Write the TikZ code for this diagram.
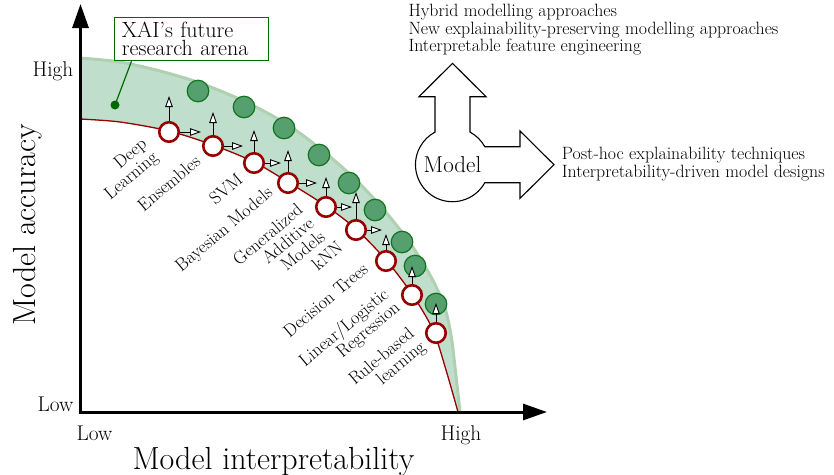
\documentclass[tikz,border=0pt]{standalone}
\usetikzlibrary{arrows.meta,calc}
\definecolor{darkred}{RGB}{150,0,0}
\definecolor{bandfill}{RGB}{192,222,204}
\definecolor{bandedge}{RGB}{176,208,178}
\definecolor{gfill}{RGB}{86,160,112}
\definecolor{gdraw}{RGB}{16,115,30}
\definecolor{xaigreen}{RGB}{0,105,0}
\newcommand\myfs[2]{\fontsize{#1}{#2}\selectfont}
\begin{document}
\begin{tikzpicture}[x=1pt,y=-1pt,
  redc/.style={circle,draw=darkred,line width=2.6pt,fill=white,minimum size=19.5pt,inner sep=0pt},
  greenc/.style={circle,draw=gdraw,line width=1.2pt,fill=gfill,minimum size=21.5pt,inner sep=0pt},
  smallarrow/.style={-{Triangle[length=11pt,width=7.5pt,fill=white]},line width=0.9pt},
  lbl/.style={rotate=40,align=right,inner sep=0pt,font=\myfs{18}{17.5}},
  smalltxt/.style={align=left,inner sep=0pt,font=\myfs{17.8}{17.5}},
  ticklbl/.style={inner sep=0pt,font=\myfs{21.3}{24}},
  axistitle/.style={inner sep=0pt,font=\myfs{32}{36}},
  axisline/.style={line width=3pt,{Triangle[length=24pt,width=16pt]}-{Triangle[length=24pt,width=16pt]}}
]
\useasboundingbox (0,0) rectangle (834,474);

% band
\fill[bandfill] plot[smooth] coordinates {(80,58) (120,62) (160,71) (200,83) (246,102) (288,125) (323,151) (355,179) (384,210) (410,243) (430,275) (444,305) (451,335) (455,367) (460,412)}
  -- plot[smooth] coordinates {(458,412) (446,370) (433,330) (412,294) (386,260) (356,229) (326,206) (288,182) (254,162) (213,145) (169,131) (120,122) (80,119)} -- cycle;
\draw[bandedge,line width=3pt] plot[smooth] coordinates {(80,58) (120,62) (160,71) (200,83) (246,102) (288,125) (323,151) (355,179) (384,210) (410,243) (430,275) (444,305) (451,335) (455,367) (460,412)};
\draw[darkred,line width=1.3pt] plot[smooth] coordinates {(80,119) (120,122) (169,131) (213,145) (254,162) (288,182) (326,206) (356,229) (386,260) (412,294) (433,330) (446,370) (458,412)};

% green circles
\node[greenc] (g1) at (198,91) {};
\node[greenc] (g2) at (244,107) {};
\node[greenc] (g3) at (284,128) {};
\node[greenc] (g4) at (319,155) {};
\node[greenc] (g5) at (349,183) {};
\node[greenc] (g6) at (375,210) {};
\node[greenc] (g7) at (402,242) {};
\node[greenc] (g8) at (415,266) {};
\node[greenc] (g9) at (436,304) {};

% red circles
\node[redc] (r1) at (169,132) {};
\node[redc] (r2) at (213,146) {};
\node[redc] (r3) at (254,163) {};
\node[redc] (r4) at (288,183) {};
\node[redc] (r5) at (326,207) {};
\node[redc] (r6) at (356,230) {};
\node[redc] (r7) at (386,261) {};
\node[redc] (r8) at (412,295) {};
\node[redc] (r9) at (436,333) {};

% arrow tips
\coordinate (u1) at (169,96);
\coordinate (u2) at (213,112);
\coordinate (u3) at (254,130);
\coordinate (u4) at (288,150);
\coordinate (u5) at (326,177);
\coordinate (u6) at (356,192);
\coordinate (u7) at (386,234);
\coordinate (u8) at (412,266);
\coordinate (u9) at (436,303);
\coordinate (t1) at (201,132);
\coordinate (t2) at (243,146);
\coordinate (t3) at (281,163);
\coordinate (t4) at (317,183);
\coordinate (t5) at (352,207);
\coordinate (t6) at (382,230);
\foreach \i in {1,...,9} {\draw[smallarrow] (r\i) -- (u\i);}
\foreach \i in {1,...,6} {\draw[smallarrow] (r\i) -- (t\i);}

% labels
\node[lbl] (l1) at (126.3,169.8) {Deep\\Learning};
\node[lbl] (l2) at (168.7,183.2) {Ensembles};
\node[lbl] (l3) at (225.8,188.8) {SVM};
\node[lbl] (l4) at (224.7,230.1) {Bayesian Models};
\node[lbl] (l5) at (278.7,247.8) {Generalized\\Additive\\Models};
\node[lbl] (l6) at (327.1,255.8) {kNN};
\node[lbl] (l7) at (325.4,300.1) {Decision Trees};
\node[lbl] (l8) at (349.9,334.7) {Linear/Logistic\\Regression};
\node[lbl] (l9) at (387.9,363.9) {Rule-based\\learning};

% axes
\coordinate (ytip) at (80.5,4);
\coordinate (origin) at (80.5,412);
\coordinate (xtip) at (547,412);
\draw[axisline] (ytip) -- (origin) -- (xtip);
\node[ticklbl,anchor=base east] (yhigh) at (73.5,76) {High};
\node[ticklbl,anchor=base east] (ylow) at (73.5,411.5) {Low};
\node[ticklbl,anchor=base west] (xlow) at (76.5,440.3) {Low};
\node[ticklbl,anchor=base] (xhigh) at (461,440.3) {High};
\node[axistitle,anchor=base] (xtitle) at (273.5,469) {Model interpretability};
\node[axistitle,anchor=base,rotate=90] (ytitle) at (35,225) {Model accuracy};

% XAI box
\node[draw=xaigreen,line width=1.2pt,fill=white,minimum width=154pt,minimum height=43.4pt,text width=138.6pt,align=left,inner xsep=7.7pt,inner ysep=0pt,font=\myfs{22}{17.5}] (xai) at (191.2,39) {XAI's future\\research arena};
\node[circle,fill=xaigreen,minimum size=9pt,inner sep=0pt] (dot) at (115,105) {};
\draw[xaigreen,line width=1.2pt] (dot.center) -- ($(xai.south west)!0.115!(xai.south east)$);

% Model shape
\draw[line width=1.1pt,fill=white] (435,132.1) -- (435,96.7) -- (419,96.7) -- (452.5,63.3) -- (486,96.7) -- (470,96.7) -- (470,132.1)
  arc[start angle=61.8,end angle=29.1,radius=37pt] -- (520,146.7) -- (520,131) -- (554,164.7) -- (520,198.4) -- (520,182.7) -- (484.8,182.7)
  arc[start angle=-29.1,end angle=-241.8,radius=37pt] -- cycle;
\node[inner sep=0pt,font=\myfs{23}{26}] (model) at (452.5,164.7) {Model};

% texts
\node[smalltxt,anchor=north west] (uptext) at (408.3,4.35) {Hybrid modelling approaches\\New explainability-preserving modelling approaches\\Interpretable feature engineering};
\node[smalltxt,anchor=north west] (righttext) at (561.7,146.95) {Post-hoc explainability techniques\\Interpretability-driven model designs};
\end{tikzpicture}
\end{document}
